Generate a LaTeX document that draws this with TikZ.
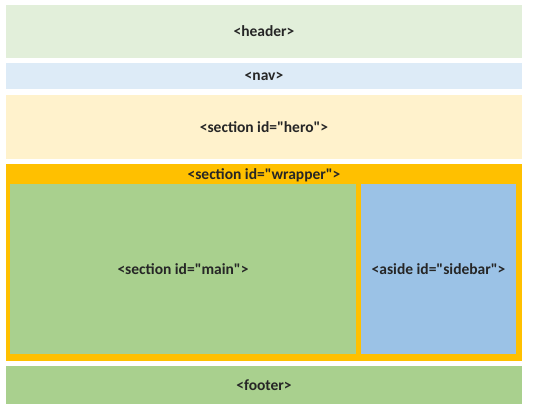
\documentclass[tikz,border=0pt]{standalone}
\usepackage{fontspec}
\setmainfont{Carlito}[Ligatures=TeXOff]
\definecolor{headerc}{HTML}{E2EFDA}
\definecolor{navc}{HTML}{DDEBF7}
\definecolor{heroc}{HTML}{FFF2CC}
\definecolor{wrapc}{HTML}{FFC000}
\definecolor{mainc}{HTML}{A9D08E}
\definecolor{sidec}{HTML}{9BC2E6}
\tikzset{
  block/.style={rectangle, draw=none, inner sep=0pt, outer sep=0pt,
    font=\fontsize{15.5}{17}\selectfont\bfseries, text=black!85},
  tag/.style={inner sep=0pt, font=\fontsize{15.5}{17}\selectfont\bfseries, text=black!85}
}
% place a block by its top-left and bottom-right corners (in px)
\newcommand{\blockat}[6]{%
  \node[block, fill=#2, minimum width=#5-#3, minimum height=#6-#4]
    (#1) at ({(#3+#5)/2},{(#4+#6)/2}) {};}
\begin{document}
\begin{tikzpicture}[x=1pt,y=-1pt]
\useasboundingbox (0,0) rectangle (537,412);
\fill[white] (0,0) rectangle (537,412);
\blockat{header}{headerc}{6}{5}{522}{58}
\blockat{nav}{navc}{6}{63}{522}{89}
\blockat{hero}{heroc}{6}{95}{522}{159}
\blockat{wrapper}{wrapc}{6}{164}{522}{361}
\blockat{main}{mainc}{10}{184}{356}{354}
\blockat{sidebar}{sidec}{361}{184}{516}{354}
\blockat{footer}{mainc}{6}{366}{522}{404}
\node[tag] (headert) at (header.center) {<header>};
\node[tag] (navt) at (nav.center) {<nav>};
\node[tag] (herot) at (hero.center) {<section id="hero">};
\node[tag] (wrapt) at ({264},{175}) {<section id="wrapper">};
\node[tag] (maint) at (main.center) {<section id="main">};
\node[tag] (sidet) at (sidebar.center) {<aside id="sidebar">};
\node[tag] (footert) at (footer.center) {<footer>};
\end{tikzpicture}
\end{document}
